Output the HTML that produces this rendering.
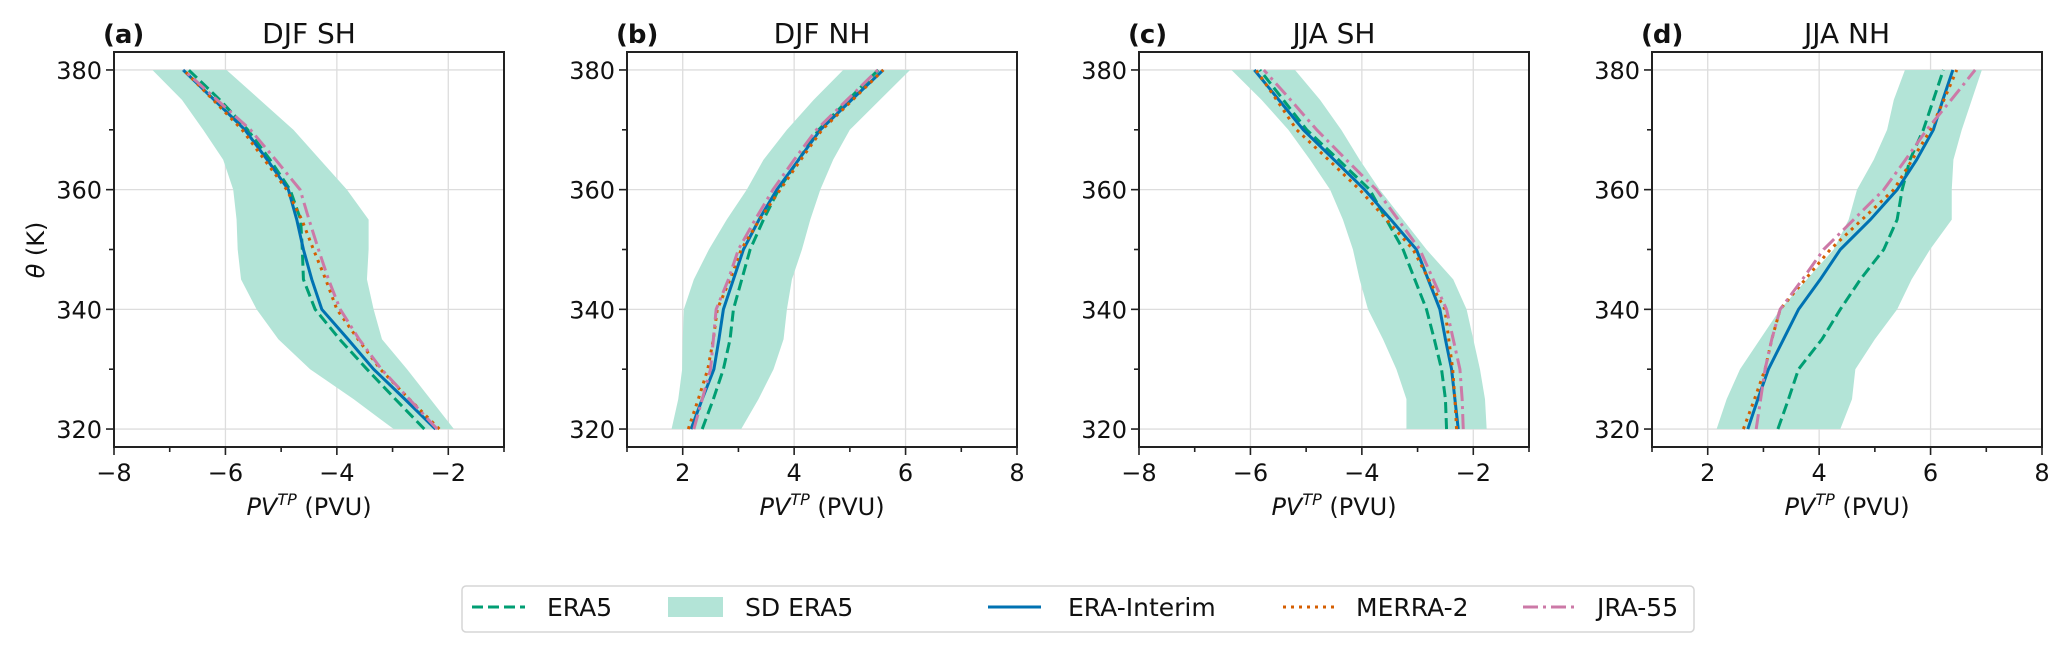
<!DOCTYPE html>
<html><head><meta charset="utf-8"><style>
html,body{margin:0;padding:0;background:#fff;}
svg{display:block;font-family:"DejaVu Sans","Liberation Sans",sans-serif;}
</style></head><body>
<svg id="fig" width="2067" height="652" viewBox="0 0 2067 652" xmlns="http://www.w3.org/2000/svg"></svg>
<script>
const levels=[320,325,330,335,340,345,350,355,360,365,370,375,380];
const panelTitles=["DJF SH","DJF NH","JJA SH","JJA NH"];
const panelLetters=["(a)","(b)","(c)","(d)"];
const xTicksSH=[-8,-6,-4,-2];
const xTicksNH=[2,4,6,8];
const yTicks=[320,340,360,380];
// panel a
const a_era5=[-2.43,-2.95,-3.46,-3.95,-4.39,-4.6,-4.62,-4.65,-4.84,-5.2,-5.6,-6.1,-6.66];
const a_sdLo=[-2.98,-3.7,-4.48,-5.05,-5.44,-5.72,-5.78,-5.8,-5.86,-6.04,-6.4,-6.78,-7.31];
const a_sdHi=[-1.9,-2.32,-2.74,-3.19,-3.34,-3.46,-3.43,-3.43,-3.82,-4.3,-4.78,-5.38,-5.98];
const a_erai=[-2.23,-2.78,-3.34,-3.8,-4.27,-4.45,-4.6,-4.72,-4.87,-5.25,-5.65,-6.2,-6.76];
const a_merra=[-2.16,-2.7,-3.22,-3.62,-4.0,-4.2,-4.42,-4.63,-4.9,-5.3,-5.7,-6.22,-6.75];
const a_jra=[-2.2,-2.7,-3.2,-3.6,-3.94,-4.15,-4.33,-4.5,-4.66,-5.1,-5.55,-6.15,-6.75];
// panel b
const b_era5=[2.35,2.55,2.73,2.85,2.91,3.06,3.21,3.45,3.72,4.08,4.44,4.97,5.51];
const b_sdLo=[1.8,1.92,1.99,2.0,2.02,2.2,2.47,2.79,3.15,3.45,3.87,4.35,4.88];
const b_sdHi=[3.05,3.36,3.63,3.81,3.87,3.96,4.14,4.29,4.47,4.7,5.0,5.54,6.08];
const b_erai=[2.15,2.35,2.56,2.65,2.73,2.91,3.09,3.37,3.69,4.08,4.47,5.03,5.6];
const b_merra=[2.1,2.28,2.45,2.55,2.62,2.85,3.05,3.38,3.75,4.12,4.5,5.05,5.6];
const b_jra=[2.2,2.35,2.5,2.55,2.6,2.82,3.0,3.3,3.62,4.0,4.4,4.95,5.5];
// panel c
const c_era5=[-2.48,-2.5,-2.57,-2.7,-2.84,-3.05,-3.26,-3.56,-3.86,-4.42,-4.99,-5.41,-5.83];
const c_sdLo=[-3.2,-3.2,-3.38,-3.62,-3.89,-4.04,-4.16,-4.34,-4.57,-4.93,-5.32,-5.8,-6.34];
const c_sdHi=[-1.76,-1.79,-1.88,-2.0,-2.12,-2.36,-2.84,-3.26,-3.68,-4.04,-4.37,-4.75,-5.2];
const c_erai=[-2.27,-2.33,-2.39,-2.5,-2.6,-2.81,-3.02,-3.48,-3.95,-4.5,-5.05,-5.49,-5.93];
const c_merra=[-2.3,-2.33,-2.37,-2.44,-2.51,-2.8,-3.08,-3.56,-4.04,-4.6,-5.17,-5.53,-5.9];
const c_jra=[-2.18,-2.2,-2.24,-2.36,-2.48,-2.72,-2.96,-3.35,-3.74,-4.28,-4.81,-5.28,-5.76];
// panel d
const d_era5=[3.26,3.45,3.63,4.05,4.38,4.74,5.16,5.4,5.49,5.63,5.87,6.05,6.23];
const d_sdLo=[2.16,2.34,2.58,2.94,3.3,3.78,4.26,4.53,4.68,4.98,5.22,5.34,5.54];
const d_sdHi=[4.38,4.59,4.65,5.0,5.4,5.66,5.99,6.38,6.38,6.41,6.56,6.74,6.92];
const d_erai=[2.72,2.9,3.09,3.36,3.63,4.02,4.38,4.92,5.4,5.75,6.05,6.22,6.4];
const d_merra=[2.64,2.84,3.03,3.15,3.3,3.75,4.2,4.77,5.34,5.67,6.0,6.24,6.47];
const d_jra=[2.87,2.95,3.03,3.15,3.3,3.7,4.08,4.62,5.16,5.55,5.93,6.37,6.8];

const panels=[
 {left:114,xmin:-8,xmax:-1,ticks:xTicksSH,era5:a_era5,lo:a_sdLo,hi:a_sdHi,erai:a_erai,merra:a_merra,jra:a_jra},
 {left:627,xmin:1,xmax:8,ticks:xTicksNH,era5:b_era5,lo:b_sdLo,hi:b_sdHi,erai:b_erai,merra:b_merra,jra:b_jra},
 {left:1139,xmin:-8,xmax:-1,ticks:xTicksSH,era5:c_era5,lo:c_sdLo,hi:c_sdHi,erai:c_erai,merra:c_merra,jra:c_jra},
 {left:1652,xmin:1,xmax:8,ticks:xTicksNH,era5:d_era5,lo:d_sdLo,hi:d_sdHi,erai:d_erai,merra:d_merra,jra:d_jra}
];
const NS="http://www.w3.org/2000/svg";
const svg=document.getElementById('fig');
function mk(tag,attrs,parent){const e=document.createElementNS(NS,tag);for(const k in attrs)e.setAttribute(k,attrs[k]);(parent||svg).appendChild(e);return e;}
const W=390,TOP=52,BOT=447,YMIN=317,YMAX=383;
const C={era5:"#009E73",erai:"#0072B2",merra:"#D55E00",jra:"#CC79A7",fill:"#b3e4d7"};
panels.forEach((p,i)=>{
 const g=mk('g',{});
 
 
 const X=v=>p.left+(v-p.xmin)/(p.xmax-p.xmin)*W;
 const Y=t=>BOT-(t-YMIN)/(YMAX-YMIN)*(BOT-TOP);
 for(let v=p.xmin+1;v<p.xmax;v++){ if(v%2===0){const l=mk('line',{x1:X(v),x2:X(v),y1:TOP,y2:BOT,stroke:"#dddddd","stroke-width":1.3},g);}}
 yTicks.forEach(t=>{const l=mk('line',{x1:p.left,x2:p.left+W,y1:Y(t),y2:Y(t),stroke:"#dddddd","stroke-width":1.3},g);});
 let pts=levels.map((t,k)=>X(p.lo[k])+','+Y(t));
 pts=pts.concat(levels.map((t,k)=>X(p.hi[k])+','+Y(t)).reverse());
 const poly=mk('polygon',{points:pts.join(' '),fill:C.fill,stroke:"none"},g);
 
 
 const line=(arr,col,dash,name)=>{const e=mk('polyline',{points:levels.map((t,k)=>X(arr[k])+','+Y(t)).join(' '),fill:"none",stroke:col,"stroke-width":3,"stroke-dasharray":dash},g);};
 line(p.era5,C.era5,"11 5","era5-line");
 line(p.erai,C.erai,"none","era-interim-line");
 line(p.merra,C.merra,"3 5","merra2-line");
 line(p.jra,C.jra,"15 5 3 5","jra55-line");
 const fr=mk('rect',{x:p.left,y:TOP,width:W,height:BOT-TOP,fill:"none",stroke:"#222","stroke-width":2},g);
 
 for(let v=p.xmin;v<=p.xmax;v++){const major=(v%2===0);mk('line',{x1:X(v),x2:X(v),y1:BOT,y2:BOT+(major?8:5),stroke:"#222","stroke-width":1.6},g);}
 p.ticks.forEach(v=>{const t=mk('text',{x:X(v),y:481,"font-size":24,"text-anchor":"middle",fill:"#111"},g);t.textContent=(v<0?'\u2212'+(-v):v);});
 for(let t=320;t<=380;t+=10){const major=(t%20===0);mk('line',{x1:p.left,x2:p.left-(major?8:5),y1:Y(t),y2:Y(t),stroke:"#222","stroke-width":1.6},g);}
 yTicks.forEach(v=>{const t=mk('text',{x:p.left-12,y:Y(v)+9,"font-size":24,"text-anchor":"end",fill:"#111"},g);t.textContent=v;});
 const ti=mk('text',{x:p.left+W/2,y:43,"font-size":28,"text-anchor":"middle",fill:"#111"},g);ti.textContent=panelTitles[i];
 
 const le=mk('text',{x:p.left-11,y:43,"font-size":26,"font-weight":"bold",fill:"#111"},g);le.textContent=panelLetters[i];
 
 const xl=mk('text',{x:p.left+W/2,y:515,"font-size":24,"text-anchor":"middle",fill:"#111"},g);
 
 xl.innerHTML='<tspan font-style="italic">PV</tspan><tspan font-style="italic" font-size="16" dy="-10">TP</tspan><tspan dy="10"> (PVU)</tspan>';
});
const yl=mk('text',{x:0,y:0,"font-size":24,"text-anchor":"middle",fill:"#111",transform:"translate(44,250) rotate(-90)"});

yl.innerHTML='<tspan font-style="italic">θ</tspan> (K)';
const lg=mk('g',{});

mk('rect',{x:462,y:586,width:1232,height:46,rx:4,fill:"#fff",stroke:"#d5d5d5","stroke-width":1.5},lg);
const ent=[
 {name:'legend-era5',x:472,col:C.era5,dash:"11 5",label:"ERA5",tx:547},
 {name:'legend-sd-era5',x:668,patch:true,label:"SD ERA5",tx:745},
 {name:'legend-era-interim',x:988,col:C.erai,dash:"none",label:"ERA-Interim",tx:1068},
 {name:'legend-merra2',x:1283,col:C.merra,dash:"3 5",label:"MERRA-2",tx:1356},
 {name:'legend-jra55',x:1523,col:C.jra,dash:"15 5 3 5",label:"JRA-55",tx:1597}
];
ent.forEach(e=>{
 const g=mk('g',{},lg);
 
 
 if(e.patch) mk('rect',{x:e.x,y:597,width:55,height:20,fill:C.fill},g);
 else mk('line',{x1:e.x,x2:e.x+53,y1:607,y2:607,stroke:e.col,"stroke-width":3,"stroke-dasharray":e.dash},g);
 const t=mk('text',{x:e.tx,y:616,"font-size":25,fill:"#111"},g);t.textContent=e.label;
});
</script>
</body></html>
